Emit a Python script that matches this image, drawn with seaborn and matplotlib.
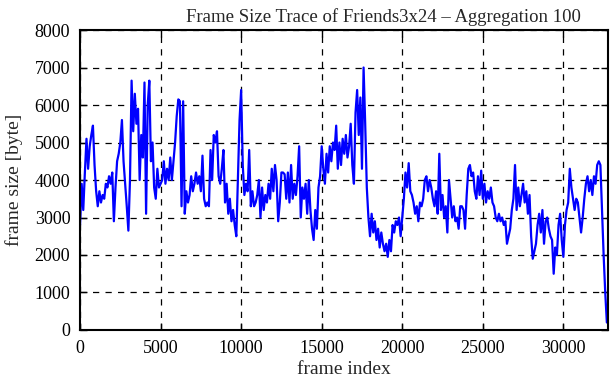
import numpy as np
import pandas as pd
import matplotlib
matplotlib.use('Agg')
import matplotlib.pyplot as plt
import seaborn as sns

# 数据：每100帧聚合一次的帧大小 (byte)
frame_step = 100
frame_size = [
    2800, 3900, 3200, 4200, 5100, 4300, 4900, 5200, 5450, 4400,
    3700, 3300, 3700, 3400, 3600, 3500, 3900, 3800, 4100, 3900,
    4200, 2900, 3800, 4500, 4700, 5000, 5600, 4500, 3900, 3300,
    2650, 4000, 6650, 5300, 6300, 5500, 5900, 4000, 5200, 4600,
    6600, 3100, 6000, 6650, 4500, 5000, 3800, 3500, 4300, 3800,
    3900, 4000, 4500, 3900, 4300, 4000, 4600, 4000, 4500, 5000,
    5700, 6150, 6100, 3300, 6100, 3100, 3700, 3400, 3600, 4100,
    3700, 3900, 4200, 3900, 4100, 3700, 4650, 3500, 3300, 3400,
    3300, 4800, 4000, 5200, 5000, 5300, 4100, 3900, 4300, 4800,
    3400, 3900, 3100, 3500, 2900, 3200, 2800, 2500, 4100, 5600,
    6400, 4400, 3600, 3900, 3700, 4800, 3300, 3700, 3300, 3400,
    3600, 4000, 3000, 3800, 3200, 3600, 3400, 3900, 3500, 4300,
    3700, 4400, 4000, 2900, 3400, 4200, 4200, 4150, 3500, 4200,
    3400, 4400, 3500, 3900, 3600, 4100, 4900, 3000, 3800, 3500,
    3900, 3100, 4000, 3200, 2700, 2400, 3200, 2700, 3800, 4100,
    4900, 4300, 3900, 4700, 4200, 4900, 4500, 5000, 4800, 5450,
    4300, 5000, 4400, 5100, 4700, 5200, 4600, 4900, 5500, 4400,
    3900, 5800, 6400, 5200, 6200, 4300, 7000, 5500, 3800, 3000,
    2500, 3100, 2600, 2900, 2400, 2700, 2200, 2600, 2300, 2100,
    2300, 1950, 2400, 2100, 2800, 2600, 2900, 2800, 3000, 2500,
    3000, 3500, 4200, 3800, 4450, 3700, 3600, 3400, 3100, 3300,
    2900, 3400, 3300, 3500, 4000, 4100, 3700, 4000, 3800, 3500,
    3300, 3700, 3100, 4700, 3200, 3600, 3000, 3300, 2600, 4000,
    3500, 3000, 3300, 2900, 3000, 2700, 3300, 3300, 3200, 2700,
    3600, 4300, 4400, 4100, 4200, 3700, 3500, 4100, 3600, 4250,
    3500, 3900, 3400, 3700, 3500, 3800, 3400, 3300, 3000, 2900,
    3100, 2900, 3000, 2800, 2900, 2300, 2500, 2700, 3200, 3500,
    4400, 3200, 3800, 3300, 3600, 3900, 3400, 3700, 3100, 3600,
    2500, 1900, 2100, 2300, 2800, 3100, 2600, 3200, 2300, 2900,
    3000, 2700, 2500, 2400, 1500, 2200, 2000, 2800, 3100, 2400,
    1950, 2800, 3200, 3400, 4300, 3800, 3500, 3200, 3500, 3400,
    3000, 2600, 3000, 3500, 3900, 4100, 3700, 4000, 3600, 4100,
    3900, 4400, 4500, 4400, 3200, 2000, 1000, 200,
]
x_ticks = [0, 5000, 10000, 15000, 20000, 25000, 30000]
y_ticks = [0, 1000, 2000, 3000, 4000, 5000, 6000, 7000, 8000]

df = pd.DataFrame({
    'frame index': np.arange(len(frame_size)) * frame_step,
    'frame size': frame_size,
})

sns.set_style('ticks')
plt.rcParams['font.family'] = ['Liberation Serif', 'DejaVu Serif']

fig = plt.figure(figsize=(6.11, 3.8), dpi=100)
ax = fig.add_axes([0.131, 0.1316, 0.864, 0.7894])

sns.lineplot(data=df, x='frame index', y='frame size', ax=ax,
             color='#0000ff', linewidth=1.6)

ax.set_xlim(0, 32768)
ax.set_ylim(0, 8000)
ax.set_xticks(x_ticks)
ax.set_yticks(y_ticks)
ax.grid(True, color='black', linestyle=(0, (5, 5)), linewidth=0.9)
ax.tick_params(direction='in', length=5, width=1, top=True, right=True,
               labelsize=13, colors='black', pad=7)
for s in ax.spines.values():
    s.set_linewidth(1.5)
    s.set_color('black')

# 标题在原图里略偏右
ax.set_title('Frame Size Trace of Friends3x24 \u2013 Aggregation 100',
             fontsize=13.5, pad=6, x=0.575)
ax.set_xlabel('frame index', fontsize=14, labelpad=3)
ax.set_ylabel('frame size [byte]', fontsize=14, labelpad=8)

plt.savefig('out.png', dpi=100)
